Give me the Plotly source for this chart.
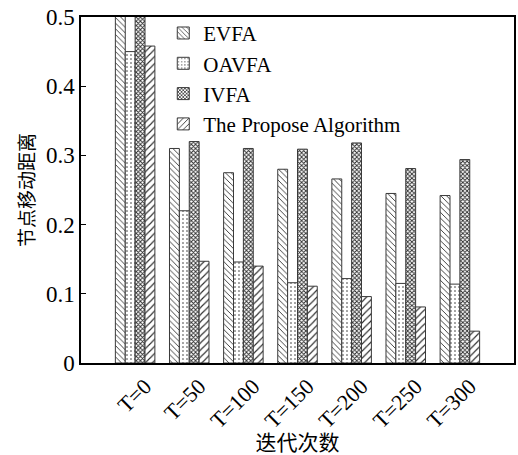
import plotly.graph_objects as go

# Iteration labels (x categories)
iterations = ["T=0", "T=50", "T=100", "T=150", "T=200", "T=250", "T=300"]

# Node movement distance per algorithm
evfa = [0.55, 0.310, 0.275, 0.280, 0.266, 0.245, 0.242]
oavfa = [0.450, 0.220, 0.146, 0.116, 0.122, 0.115, 0.114]
ivfa = [0.55, 0.320, 0.310, 0.309, 0.318, 0.281, 0.294]
proposed = [0.458, 0.147, 0.140, 0.111, 0.096, 0.081, 0.046]

series = [
    ("EVFA", evfa, "\\", 4, 0.22),
    ("OAVFA", oavfa, ".", 4, 0.12),
    ("IVFA", ivfa, "x", 3, 0.5),
    ("The Propose Algorithm", proposed, "/", 5, 0.22),
]

FONT = "Liberation Serif, Times New Roman, Noto Sans CJK SC"

fig = go.Figure()
for name, vals, shape, size, solidity in series:
    fig.add_trace(go.Bar(
        name=name,
        x=iterations,
        y=vals,
        marker=dict(
            color="white",
            line=dict(color="#3a3a3a", width=1),
            pattern=dict(shape=shape, size=size, solidity=solidity,
                         fgcolor="#2a2a2a", bgcolor="white", fillmode="replace"),
        ),
    ))

fig.update_layout(
    width=518,
    height=455,
    margin=dict(l=81, r=2, t=17, b=92),
    paper_bgcolor="white",
    plot_bgcolor="white",
    barmode="group",
    bargap=0.27,
    bargroupgap=0,
    font=dict(family=FONT, size=20, color="black"),
    showlegend=True,
    legend=dict(
        x=0.19, y=1.012, xanchor="left", yanchor="top",
        bgcolor="rgba(0,0,0,0)",
        font=dict(family=FONT, size=21),
        tracegroupgap=0,
        itemwidth=30,
    ),
    xaxis=dict(
        range=[-1, 7],
        showline=True, linecolor="black", linewidth=1.5, mirror=True,
        ticks="", tickangle=-45,
        tickfont=dict(family=FONT, size=22),
        ticklabelshift=10,
        title=dict(text="迭代次数", font=dict(family=FONT, size=21), standoff=2),
    ),
    yaxis=dict(
        range=[0, 0.5],
        tickvals=[0, 0.1, 0.2, 0.3, 0.4, 0.5],
        ticktext=["0", "0.1", "0.2", "0.3", "0.4", "0.5"],
        showline=True, linecolor="black", linewidth=1.5, mirror=True,
        ticks="inside", ticklen=5, tickcolor="black",
        showgrid=False, zeroline=False,
        tickfont=dict(family=FONT, size=23),
        title=dict(text="节点移动距离", font=dict(family=FONT, size=19), standoff=6),
    ),
)

fig.write_html("out.html")
